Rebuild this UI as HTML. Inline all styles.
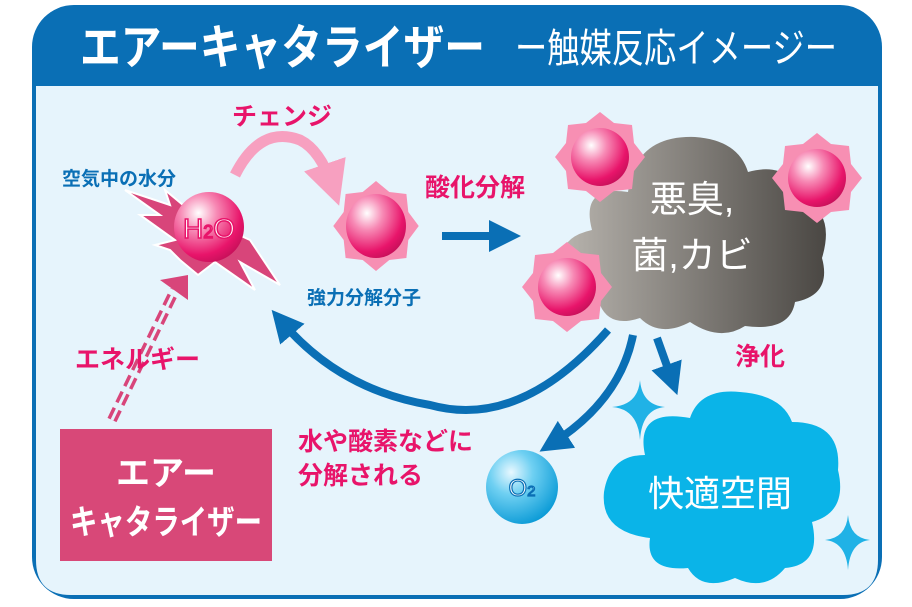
<!DOCTYPE html>
<html><head><meta charset="utf-8"><style>
html,body{margin:0;padding:0;background:#fff;overflow:hidden;width:912px;height:607px}
svg{display:block}
text{font-family:"Liberation Sans","Noto Sans CJK JP",sans-serif;font-weight:bold}
.n{font-weight:normal}
</style></head><body>
<svg width="912" height="607" viewBox="0 0 912 607" xmlns="http://www.w3.org/2000/svg">
<defs>
<radialGradient id="pk" cx="0.35" cy="0.3" r="0.75">
<stop offset="0" stop-color="#fff"/><stop offset="0.35" stop-color="#f78ab5"/><stop offset="0.8" stop-color="#e8146a"/><stop offset="1" stop-color="#c8105a"/></radialGradient>
<radialGradient id="bl" cx="0.35" cy="0.3" r="0.75">
<stop offset="0" stop-color="#e8f8ff"/><stop offset="0.4" stop-color="#6fd0f2"/><stop offset="1" stop-color="#0a9ad6"/></radialGradient>
<linearGradient id="gr" x1="0" x2="1" y1="0" y2="0">
<stop offset="0" stop-color="#b8b4ae"/><stop offset="1" stop-color="#4a4743"/></linearGradient>
<marker id="ah" markerWidth="4" markerHeight="4" refX="2" refY="2" orient="auto" markerUnits="strokeWidth"><path d="M0,0L4,2L0,4z" fill="#0a6fb5"/></marker>
<marker id="ap" markerWidth="4" markerHeight="4" refX="2" refY="2" orient="auto" markerUnits="strokeWidth"><path d="M0,0L4,2L0,4z" fill="#f7a0c0"/></marker>
<g id="star"><polygon fill="#f78fb3" points="0,-45 14,-34 32,-32 34,-14 45,0 34,14 32,32 14,34 0,45 -14,34 -32,32 -34,14 -45,0 -34,-14 -32,-32 -14,-34"/></g>
</defs>
<rect x="32" y="5" width="850" height="594" rx="42" fill="#0a6fb5"/>
<path d="M36 86 H878 V560 Q878 595 843 595 H71 Q36 595 36 560 Z" fill="#e6f4fc"/>
<text x="80" y="64" font-size="48" fill="#fff" textLength="405" lengthAdjust="spacingAndGlyphs">エアーキャタライザー</text>
<text x="515" y="62" font-size="40" fill="#fff" class="n" textLength="322" lengthAdjust="spacingAndGlyphs">ー触媒反応イメージー</text>

<text x="232" y="125" font-size="25" fill="#e8146a">チェンジ</text>
<path d="M235 175 Q260 125 300 140 Q320 150 332 185" fill="none" stroke="#f7a0c0" stroke-width="11" marker-end="url(#ap)"/>
<text x="62" y="185" font-size="19" fill="#0a6fb5">空気中の水分</text>
<polygon fill="#d8457a" stroke="#fff" stroke-width="2" points="125,190 170,205 165,190 195,215 250,240 280,285 240,262 255,290 215,262 198,275 180,260 170,250 155,245 175,240 140,215 160,215"/>
<circle cx="209" cy="227" r="35" fill="url(#pk)"/>
<text x="209" y="238" font-size="28" fill="#fff" stroke="#e8146a" stroke-width="1.5" text-anchor="middle" class="n">H<tspan font-size="18">2</tspan>O</text>

<use href="#star" transform="translate(376,226) scale(0.95,1.0)"/>
<ellipse cx="376" cy="226" rx="30" ry="32" fill="url(#pk)"/>
<text x="307" y="304" font-size="19" fill="#0a6fb5">強力分解分子</text>

<text x="425" y="196" font-size="25" fill="#e8146a">酸化分解</text>
<path d="M442 236 H505" stroke="#0a6fb5" stroke-width="8" marker-end="url(#ah)"/>

<path fill="url(#gr)" d="M600 305 Q558 305 563 270 Q555 238 592 230 Q580 185 628 192 Q635 135 695 137 Q738 140 748 172 Q790 160 805 200 Q835 215 822 258 Q832 295 795 302 Q790 332 745 326 Q720 342 690 322 Q660 338 640 318 Q610 328 600 305Z"/>
<text x="692" y="212" font-size="37" fill="#fff" text-anchor="middle" class="n">悪臭,</text>
<text x="692" y="268" font-size="37" fill="#fff" text-anchor="middle" class="n">菌,カビ</text>
<use href="#star" transform="translate(600,157)"/>
<circle cx="600" cy="157" r="29" fill="url(#pk)"/>
<use href="#star" transform="translate(817,178)"/>
<circle cx="817" cy="178" r="29" fill="url(#pk)"/>
<use href="#star" transform="translate(567,287)"/>
<circle cx="567" cy="287" r="29" fill="url(#pk)"/>

<path d="M112 420 L175 290" stroke="#d8457a" stroke-width="10" stroke-dasharray="12,6" fill="none"/>
<path d="M112 420 L175 290" stroke="#e6f4fc" stroke-width="3" fill="none"/>
<polygon points="160,280 188,275 188,300" fill="#d8457a"/>
<text x="75" y="368" font-size="25" fill="#e8146a">エネルギー</text>

<rect x="60" y="429" width="212" height="132" fill="#d84878"/>
<text x="166" y="485" font-size="34" fill="#fff" text-anchor="middle">エアー</text>
<text x="166" y="534" font-size="34" fill="#fff" text-anchor="middle" textLength="192" lengthAdjust="spacingAndGlyphs">キャタライザー</text>

<path d="M608 330 Q520 430 430 405 Q340 390 282 322" fill="none" stroke="#0a6fb5" stroke-width="8" marker-end="url(#ah)"/>
<text x="298" y="450" font-size="25" fill="#e8146a">水や酸素などに</text>
<text x="298" y="484" font-size="25" fill="#e8146a">分解される</text>
<path d="M633 335 Q620 400 553 443" fill="none" stroke="#0a6fb5" stroke-width="8" marker-end="url(#ah)"/>
<path d="M657 338 L672 380" fill="none" stroke="#0a6fb5" stroke-width="8" marker-end="url(#ah)"/>
<text x="735" y="365" font-size="25" fill="#e8146a">浄化</text>

<ellipse cx="522" cy="487" rx="36" ry="37" fill="url(#bl)"/>
<text x="522" y="496" font-size="24" fill="#fff" stroke="#0a6fb5" stroke-width="1.2" text-anchor="middle" class="n">O<tspan font-size="15">2</tspan></text>

<path d="M640 380 Q642 405 665 407 Q642 409 640 440 Q638 409 612 407 Q638 405 640 380Z" fill="#20b2e6"/>
<path d="M848 515 Q850 538 870 540 Q850 542 848 570 Q846 542 825 540 Q846 538 848 515Z" fill="#20b2e6"/>
<path fill="#0ab4e8" d="M645 455 Q635 408 690 418 Q700 388 740 392 Q782 395 792 422 Q842 422 838 470 Q848 512 812 522 Q822 565 785 568 Q765 592 735 578 Q702 592 688 568 Q645 572 650 538 Q600 532 604 492 Q610 455 645 455Z"/>
<text x="720" y="506" font-size="36" fill="#fff" text-anchor="middle" class="n">快適空間</text>
</svg>
</body></html>
